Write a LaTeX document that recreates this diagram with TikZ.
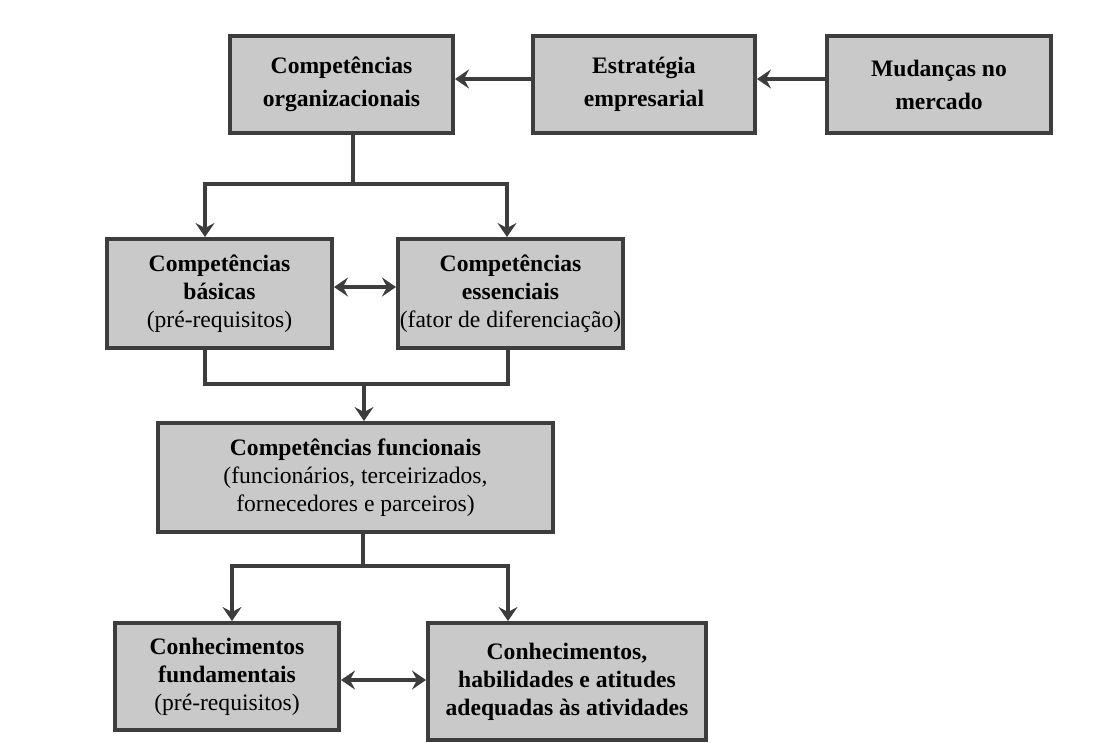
\documentclass[tikz,border=0pt]{standalone}
\usepackage{fontspec}
\setmainfont{Liberation Serif}
\usetikzlibrary{arrows.meta}
\definecolor{boxgray}{HTML}{C9C9C9}
\definecolor{linegray}{HTML}{3D3D3D}

\begin{document}
\begin{tikzpicture}[x=1pt,y=-1pt,
  caixa/.style={rectangle,draw=linegray,line width=4pt,fill=boxgray,align=center,inner sep=0pt,
    font=\bfseries\fontsize{23.6}{28}\selectfont},
  topo/.style={caixa,minimum height=97pt,font=\bfseries\fontsize{23.6}{33}\selectfont},
  liga/.style={draw=linegray,line width=3.5pt},
  seta/.style={liga,-{Stealth[length=14pt,width=19pt,inset=5pt]}},
  dupla/.style={liga,{Stealth[length=14pt,width=19pt,inset=5pt]}-{Stealth[length=14pt,width=19pt,inset=5pt]}}]
\path[fill=white,use as bounding box] (0,0) rectangle (1106,742);

\node [topo,minimum width=223pt] (orgs) at (341.5,84.5) {Competências\\organizacionais};
\node [topo,minimum width=222pt] (estrat) at (644,84.5) {Estratégia\\empresarial};
\node [topo,minimum width=224pt] (mercado) at (939,84.5) {Mudanças no\\mercado};

\node [caixa,minimum width=225pt,minimum height=109pt] (basicas) at (219.5,293.5) {Competências\\básicas\\\textmd{(pré-requisitos)}};
\node [caixa,minimum width=225pt,minimum height=109pt] (essenciais) at (510.5,293.5) {Competências\\essenciais\\\textmd{(fator de diferenciação)}};

\node [caixa,minimum width=395pt,minimum height=109pt] (funcionais) at (355.5,477.5) {Competências funcionais\\\textmd{(funcionários, terceirizados,}\\\textmd{fornecedores e parceiros)}};

\node [caixa,minimum width=224pt,minimum height=107pt] (fundamentais) at (227,676.5) {Conhecimentos\\fundamentais\\\textmd{(pré-requisitos)}};
\node [caixa,minimum width=278pt,minimum height=117pt] (cha) at (567,681.5) {Conhecimentos,\\habilidades e atitudes\\adequadas às atividades};

\coordinate (n1) at (353,184);
\coordinate (n2) at (364,384);
\coordinate (n3) at (363,566);

\draw [seta] ([yshift=5.5pt]mercado.west) -- ([yshift=5.5pt]estrat.east);
\draw [seta] ([yshift=5.5pt]estrat.west) -- ([yshift=5.5pt]orgs.east);

\draw [liga] (orgs.south -| n1) -- (n1);
\draw [seta] (n1) -| ([xshift=-14.5pt]basicas.north);
\draw [seta] (n1) -| ([xshift=-3.5pt]essenciais.north);
\draw [dupla] ([yshift=6.5pt]basicas.east) -- ([yshift=6.5pt]basicas.east -| essenciais.west);

\draw [liga] ([xshift=-14.5pt]basicas.south) |- (n2) -| ([xshift=-2.5pt]essenciais.south);
\draw [seta] (n2) -- (n2 |- funcionais.north);

\draw [liga] (funcionais.south -| n3) -- (n3);
\draw [seta] (n3) -| ([xshift=5pt]fundamentais.north);
\draw [seta] (n3) -| ([xshift=-59pt]cha.north);
\draw [dupla] ([yshift=-3.5pt]fundamentais.east) -- ([yshift=-3.5pt]fundamentais.east -| cha.west);
\end{tikzpicture}
\end{document}
